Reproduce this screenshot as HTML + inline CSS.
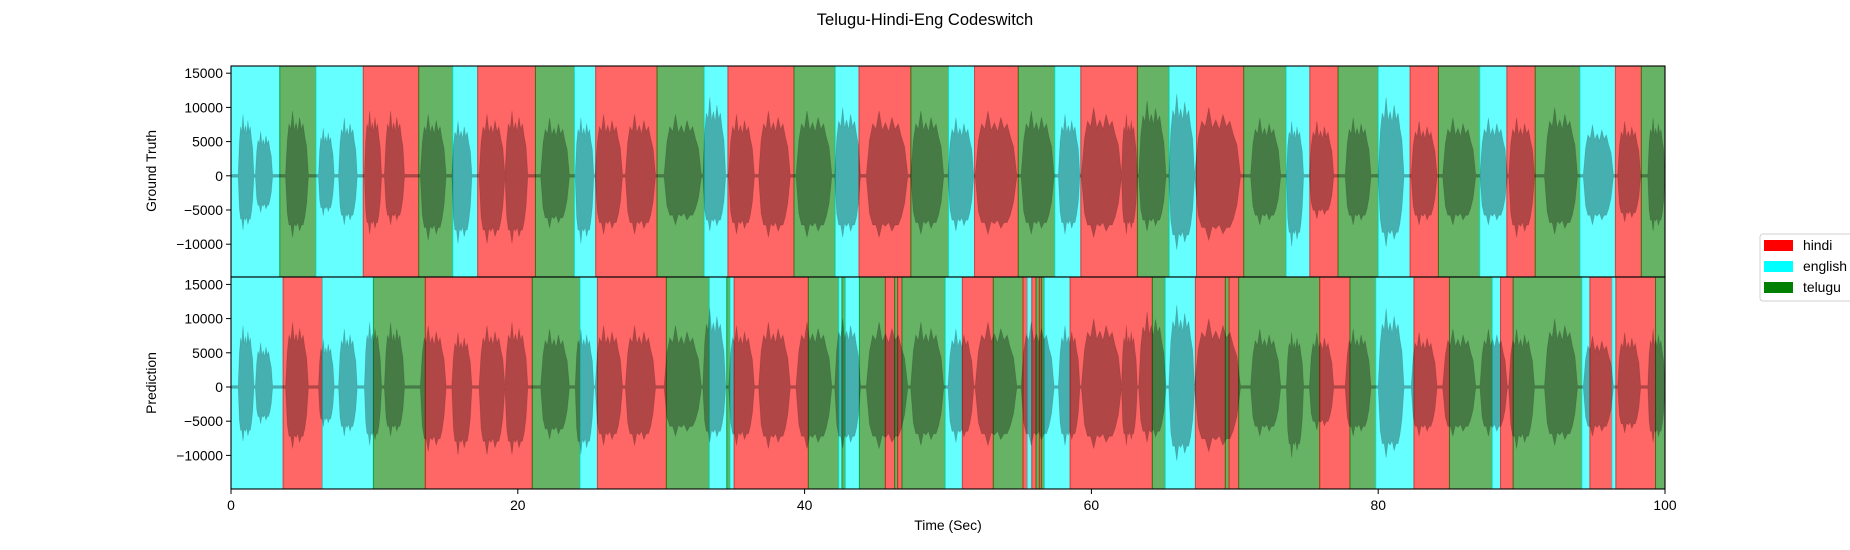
<!DOCTYPE html>
<html><head><meta charset="utf-8"><style>
html,body{margin:0;padding:0;background:#fff;}
svg{display:block;font-family:"Liberation Sans","DejaVu Sans",sans-serif;}
</style></head><body>
<svg id="chart" width="1850" height="550" viewBox="0 0 1850 550" xmlns="http://www.w3.org/2000/svg">
<text x="925" y="25" text-anchor="middle" font-size="16.5">Telugu-Hindi-Eng Codeswitch</text>
<g id="panels"></g>
<text x="948" y="530" text-anchor="middle" font-size="13.9">Time (Sec)</text>
<text transform="translate(156,171) rotate(-90)" text-anchor="middle" font-size="13.9">Ground Truth</text>
<text transform="translate(156,383) rotate(-90)" text-anchor="middle" font-size="13.9">Prediction</text>
<g>
<rect x="1760" y="234" width="100" height="67" rx="3" fill="#fff" stroke="#d0d0d0" stroke-width="1"/>
<g><rect x="1764" y="240" width="29" height="11" fill="#ff0000"/><text x="1803" y="250" font-size="13.9">hindi</text></g>
<g><rect x="1764" y="261" width="29" height="11" fill="#00ffff"/><text x="1803" y="271" font-size="13.9">english</text></g>
<g><rect x="1764" y="282" width="29" height="11" fill="#008000"/><text x="1803" y="292" font-size="13.9">telugu</text></g>
</g>
</svg>
<script>
// Ground-truth segment boundaries (sec) and labels
const gtBounds = [0,3.4,5.93,9.22,13.09,15.47,17.2,21.23,23.95,25.43,29.71,33.0,34.65,39.26,42.14,43.79,47.41,50.04,51.85,54.9,57.45,59.26,63.21,65.43,67.33,70.62,73.58,75.23,77.2,80.0,82.22,84.2,87.08,88.97,90.95,94.07,96.54,98.35,100];
const gtLabels = ["english","telugu","english","hindi","telugu","english","hindi","telugu","english","hindi","telugu","english","hindi","telugu","english","hindi","telugu","english","hindi","telugu","english","hindi","telugu","english","hindi","telugu","english","hindi","telugu","english","hindi","telugu","english","hindi","telugu","english","hindi","telugu"];
// Prediction segment boundaries (sec) and labels
const prBounds = [0,3.63,6.37,9.93,13.55,21.01,24.34,25.55,30.36,33.36,34.57,34.8,35.08,40.26,42.38,42.6,42.84,43.82,45.63,46.28,46.49,46.79,49.81,51.0,53.16,55.23,55.53,55.84,56.14,56.37,56.51,56.72,58.51,64.25,65.15,67.25,69.34,69.6,70.27,75.92,78.03,79.83,82.49,84.97,87.95,88.53,89.41,94.2,94.76,96.3,96.57,99.34,100];
const prLabels = ["english","hindi","english","telugu","hindi","telugu","english","hindi","telugu","english","telugu","english","hindi","telugu","english","telugu","english","telugu","hindi","telugu","hindi","telugu","english","hindi","telugu","hindi","english","hindi","telugu","hindi","telugu","english","hindi","telugu","english","hindi","telugu","hindi","telugu","hindi","telugu","english","hindi","telugu","english","hindi","telugu","english","hindi","english","hindi","telugu"];
// Waveform speech bursts: start, end (sec), positive peak, negative peak
const burstStart = [0.5,1.7,3.8,6.1,7.5,9.3,10.7,13.2,15.4,17.3,19.1,21.6,24.0,25.4,27.5,30.2,32.9,34.7,36.8,39.4,42.1,44.3,47.4,50.0,51.9,55.1,57.7,59.3,62.1,63.3,65.4,67.2,71.1,73.6,75.2,77.7,80.0,82.3,84.5,87.1,89.1,91.6,94.3,96.7,98.8];
const burstEnd = [1.6,2.9,5.4,7.2,8.8,10.5,12.1,15.0,16.8,19.1,20.7,23.6,25.3,27.3,29.6,32.8,34.5,36.5,39.0,41.9,43.9,47.2,49.7,51.8,54.8,57.4,59.2,62.1,63.2,65.2,67.2,70.4,73.2,74.8,76.9,79.5,81.8,84.1,86.8,89.0,90.9,93.9,96.4,98.3,100];
const burstPos = [9000,6500,9500,7000,8500,9500,9500,9000,8000,9000,9500,8500,8500,9000,9000,9000,11500,9000,9500,9500,10000,9500,9500,8500,9500,9500,9000,10000,9000,11000,12000,10000,8500,8000,8000,8500,11500,8000,8500,8500,8500,10000,7500,8000,8500];
const burstNeg = [8800,6000,10000,6500,8000,9500,8000,10500,11000,11000,11000,8500,11000,9500,9500,8000,9000,9500,10000,10000,10000,10000,9500,9000,9500,9500,9500,10000,9500,9000,12000,10500,8000,11500,7000,8000,11500,8000,8000,8000,10000,9500,8000,7500,9000];
const yTicks = [15000,10000,5000,0,-5000,-10000];
const xTicks = [0,20,40,60,80,100];

const NS="http://www.w3.org/2000/svg";
const X0=231, X1=1665, T0=0, T1=100;
const xs = s => X0 + (s-T0)/(T1-T0)*(X1-X0);
const PPU = 34.2/5000;
const colors = {hindi:"#ff0000", english:"#00ffff", telugu:"#008000"};
const panels = [{top:66,bottom:277,zero:175.8,bounds:gtBounds,labels:gtLabels,name:"ground-truth"},
                {top:277,bottom:489,zero:387,bounds:prBounds,labels:prLabels,name:"prediction"}];
const root=document.getElementById('panels');
function mk(tag,attrs,parent){const e=document.createElementNS(NS,tag);for(const k in attrs)e.setAttribute(k,attrs[k]);(parent||root).appendChild(e);return e;}
const profile=[0,0.55,0.8,0.72,1,0.7,0.82,0.68,0.9,0.72,0.8,0.6,0.45,0];
panels.forEach((p,pi)=>{
  const ys = v => p.zero - v*PPU;
  const g=mk('g',{});
  
  
  const cid='clip'+pi;
  const cp=mk('clipPath',{id:cid},g); mk('rect',{x:X0,y:p.top,width:X1-X0,height:p.bottom-p.top},cp);
  const inner=mk('g',{'clip-path':'url(#'+cid+')'},g);
  for(let i=0;i<p.labels.length;i++){
    const r=mk('rect',{x:xs(p.bounds[i]),y:p.top,width:xs(p.bounds[i+1])-xs(p.bounds[i]),height:p.bottom-p.top,fill:colors[p.labels[i]],'fill-opacity':0.6,stroke:colors[p.labels[i]],'stroke-opacity':0.6,'stroke-width':1},inner);
    
    
  }
  let top=[], bot=[];
  top.push([xs(0),ys(200)]); bot.push([xs(0),ys(-200)]);
  for(let b=0;b<burstStart.length;b++){
    const s0=burstStart[b], s1=burstEnd[b];
    for(let k=0;k<profile.length;k++){
      const t=s0+(s1-s0)*k/(profile.length-1);
      const jn=(k%2===1)?1:0.9;
      top.push([xs(t),ys(Math.max(200,burstPos[b]*profile[k]))]);
      bot.push([xs(t),ys(-Math.max(200,burstNeg[b]*profile[k]*jn))]);
    }
  }
  top.push([xs(100),ys(200)]); bot.push([xs(100),ys(-200)]);
  const d='M'+top.map(q=>q[0].toFixed(1)+','+q[1].toFixed(1)).join('L')+'L'+bot.reverse().map(q=>q[0].toFixed(1)+','+q[1].toFixed(1)).join('L')+'Z';
  const w=mk('path',{d:d,fill:'#000','fill-opacity':0.31,stroke:'#000','stroke-opacity':0.12,'stroke-width':0.8},inner);
  
  
  mk('rect',{x:X0,y:p.top,width:X1-X0,height:p.bottom-p.top,fill:'none',stroke:'#000','stroke-width':1.1},g);
  yTicks.forEach(v=>{
    const y=ys(v);
    mk('line',{x1:X0-5,x2:X0,y1:y,y2:y,stroke:'#000','stroke-width':1},g);
    const t=mk('text',{x:X0-8,y:y+5,'text-anchor':'end','font-size':13.9},g);
    t.textContent=(v<0?'\u2212'+(-v):String(v));
    
    
  });
});
xTicks.forEach(v=>{
  const x=xs(v);
  mk('line',{x1:x,x2:x,y1:489,y2:494,stroke:'#000','stroke-width':1});
  const t=mk('text',{x:x,y:510,'text-anchor':'middle','font-size':13.9});
  t.textContent=String(v);
  
  
});
</script>
</body></html>
